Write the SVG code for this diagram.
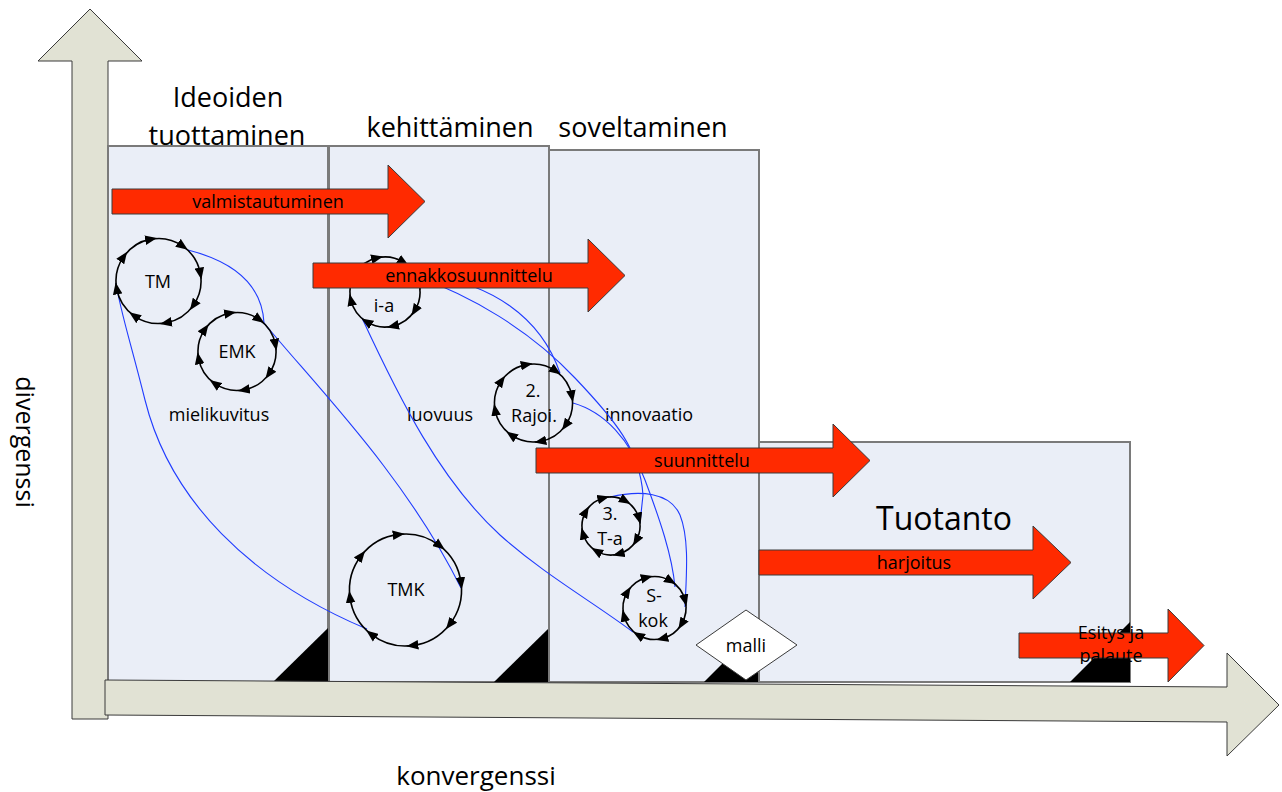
<svg xmlns="http://www.w3.org/2000/svg" width="1282" height="792" viewBox="0 0 1282 792">
  <defs>
    <style>
      .axis { fill: #E1E2D4; stroke: #3a3a3a; stroke-width: 1; }
      .panel { fill: #EAEEF7; stroke: #7a7a7a; stroke-width: 2; }
      .corner { fill: #000; }
      .flow { fill: #FF2A00; stroke: #3a3a3a; stroke-width: 1; }
      .link { fill: none; stroke: #1F3BFF; stroke-width: 1.1; }
      .cycle { fill: none; stroke: #000; stroke-width: 1.6; marker-start: url(#tri); marker-mid: url(#tri); }
      text { font-family: "Open Sans", "Liberation Sans", sans-serif; fill: #000; text-anchor: middle; }
      .big { font-size: 27px; }
      .lbl { font-size: 18px; }
    </style>
    <marker id="tri" viewBox="0 0 10 8" refX="5" refY="4" markerWidth="12" markerHeight="10" markerUnits="userSpaceOnUse" orient="auto">
      <path d="M0,0 L10,4 L0,8 Z" fill="#000"/>
    </marker>
    <clipPath id="clipEsitys">
      <rect x="1000" y="600" width="220" height="64"/>
    </clipPath>
  </defs>

  <!-- vertical axis -->
  <g id="axis-divergence">
    <polygon class="axis" points="72,719 72,61 38,61 90,9 142,61 108,61 108,719"/>
    <text class="big" style="font-size:25px" transform="translate(16,442) rotate(90)">divergenssi</text>
  </g>

  <!-- phase panels -->
  <g id="panel-ideoiden">
    <rect class="panel" x="108" y="146" width="220" height="536"/>
    <polygon class="corner" points="273,682 328,628 328,682"/>
    <text class="big" x="228" y="107">Ideoiden</text>
    <text class="big" x="227" y="145">tuottaminen</text>
    <text class="lbl" x="219" y="421">mielikuvitus</text>
  </g>
  <g id="panel-kehittaminen">
    <rect class="panel" x="329" y="146" width="220" height="536"/>
    <polygon class="corner" points="494,682 549,628 549,682"/>
    <text class="big" x="450" y="137">kehittäminen</text>
    <text class="lbl" x="440" y="421">luovuus</text>
  </g>
  <g id="panel-soveltaminen">
    <rect class="panel" x="549" y="150" width="210" height="532"/>
    <polygon class="corner" points="704,682 759,627 759,682"/>
    <text class="big" x="643" y="137">soveltaminen</text>
    <text class="lbl" x="649" y="421">innovaatio</text>
  </g>
  <g id="panel-tuotanto">
    <rect class="panel" x="759" y="442" width="371" height="240"/>
    <polygon class="corner" points="1070,682 1130,622 1130,682"/>
    <text x="944" y="530" style="font-size:32px">Tuotanto</text>
  </g>

  <!-- connectors between cycles -->
  <g id="connectors">
    <path class="link" d="M188,250 C235,262 262,285 264,323"/>
    <path class="link" d="M264,323 C315,385 405,475 461,588"/>
    <path class="link" d="M367,629 C250,580 170,500 145,400 C130,340 120,310 116,283"/>
    <path class="link" d="M362,318 C400,400 440,480 500,535 C545,575 590,600 633,632"/>
    <path class="link" d="M415,276 C470,295 530,330 575,378 C615,420 640,450 643,495 L640,523"/>
    <path class="link" d="M430,275 C490,285 540,315 560,373"/>
    <path class="link" d="M573,403 C605,412 630,440 645,480 C660,520 672,555 675,587"/>
    <path class="link" d="M610,497 C640,490 670,492 680,515 C690,540 686,580 685,607"/>
  </g>

  <!-- cycles -->
  <g id="cycle-tm">
    <path class="cycle" transform="translate(158.5,281) rotate(-100)" d="M42.5,0 A42.5,42.5 0 0 1 30.05,30.05 A42.5,42.5 0 0 1 0,42.5 A42.5,42.5 0 0 1 -30.05,30.05 A42.5,42.5 0 0 1 -42.5,0 A42.5,42.5 0 0 1 -30.05,-30.05 A42.5,42.5 0 0 1 0,-42.5 A42.5,42.5 0 0 1 30.05,-30.05 A42.5,42.5 0 0 1 42.5,0"/>
    <text class="lbl" x="158" y="288">TM</text>
  </g>
  <g id="cycle-emk">
    <path class="cycle" transform="translate(237,351.5) rotate(-100)" d="M39,0 A39,39 0 0 1 27.58,27.58 A39,39 0 0 1 0,39 A39,39 0 0 1 -27.58,27.58 A39,39 0 0 1 -39,0 A39,39 0 0 1 -27.58,-27.58 A39,39 0 0 1 0,-39 A39,39 0 0 1 27.58,-27.58 A39,39 0 0 1 39,0"/>
    <text class="lbl" x="237" y="358">EMK</text>
  </g>
  <g id="cycle-tmk">
    <path class="cycle" transform="translate(405.5,590) rotate(-97)" d="M56,0 A56,56 0 0 1 39.6,39.6 A56,56 0 0 1 0,56 A56,56 0 0 1 -39.6,39.6 A56,56 0 0 1 -56,0 A56,56 0 0 1 -39.6,-39.6 A56,56 0 0 1 0,-56 A56,56 0 0 1 39.6,-39.6 A56,56 0 0 1 56,0"/>
    <text class="lbl" x="406" y="596">TMK</text>
  </g>
  <g id="cycle-ia">
    <path class="cycle" transform="translate(385,292) rotate(-103)" d="M35,0 A35,35 0 0 1 24.75,24.75 A35,35 0 0 1 0,35 A35,35 0 0 1 -24.75,24.75 A35,35 0 0 1 -35,0 A35,35 0 0 1 -24.75,-24.75 A35,35 0 0 1 0,-35 A35,35 0 0 1 24.75,-24.75 A35,35 0 0 1 35,0"/>
    <text class="lbl" x="384" y="312">i-a</text>
  </g>
  <g id="cycle-rajoi">
    <path class="cycle" transform="translate(533.5,403) rotate(-100)" d="M39,0 A39,39 0 0 1 27.58,27.58 A39,39 0 0 1 0,39 A39,39 0 0 1 -27.58,27.58 A39,39 0 0 1 -39,0 A39,39 0 0 1 -27.58,-27.58 A39,39 0 0 1 0,-39 A39,39 0 0 1 27.58,-27.58 A39,39 0 0 1 39,0"/>
    <text class="lbl" x="533" y="397">2.</text>
    <text class="lbl" x="534" y="422">Rajoi.</text>
  </g>
  <g id="cycle-ta">
    <path class="cycle" transform="translate(611,526) rotate(-105)" d="M29,0 A29,29 0 0 1 20.51,20.51 A29,29 0 0 1 0,29 A29,29 0 0 1 -20.51,20.51 A29,29 0 0 1 -29,0 A29,29 0 0 1 -20.51,-20.51 A29,29 0 0 1 0,-29 A29,29 0 0 1 20.51,-20.51 A29,29 0 0 1 29,0"/>
    <text class="lbl" x="610" y="520">3.</text>
    <text class="lbl" x="610" y="545">T-a</text>
  </g>
  <g id="cycle-skok">
    <path class="cycle" transform="translate(654.5,608) rotate(-104)" d="M31.5,0 A31.5,31.5 0 0 1 22.27,22.27 A31.5,31.5 0 0 1 0,31.5 A31.5,31.5 0 0 1 -22.27,22.27 A31.5,31.5 0 0 1 -31.5,0 A31.5,31.5 0 0 1 -22.27,-22.27 A31.5,31.5 0 0 1 0,-31.5 A31.5,31.5 0 0 1 22.27,-22.27 A31.5,31.5 0 0 1 31.5,0"/>
    <text class="lbl" x="654" y="602">S-</text>
    <text class="lbl" x="653" y="627">kok</text>
  </g>

  <!-- model decision -->
  <g id="malli">
    <polygon points="696,645 746,610 797,645 746,680" fill="#fff" stroke="#3a3a3a" stroke-width="1"/>
    <text class="lbl" x="746" y="652">malli</text>
  </g>

  <!-- process arrows -->
  <g id="flow-valmistautuminen">
    <polygon class="flow" points="112,189 388,189 388,165 425,201.5 388,238 388,214 112,214"/>
    <text class="lbl" x="268" y="208">valmistautuminen</text>
  </g>
  <g id="flow-ennakkosuunnittelu">
    <polygon class="flow" points="313,263 588,263 588,239 625,275.5 588,312 588,288 313,288"/>
    <text class="lbl" x="469" y="282">ennakkosuunnittelu</text>
  </g>
  <g id="flow-suunnittelu">
    <polygon class="flow" points="536,448 833,448 833,424 870,460.5 833,497 833,473 536,473"/>
    <text class="lbl" x="702" y="467">suunnittelu</text>
  </g>
  <g id="flow-harjoitus">
    <polygon class="flow" points="759,550 1033,550 1033,526 1071,562.5 1033,599 1033,575 759,575"/>
    <text class="lbl" x="914" y="569">harjoitus</text>
  </g>
  <g id="flow-esitys">
    <polygon class="flow" points="1019,633 1168,633 1168,609 1204,645.5 1168,682 1168,658 1019,658"/>
    <g clip-path="url(#clipEsitys)">
      <text class="lbl" x="1111" y="639">Esitys ja</text>
      <text class="lbl" x="1111" y="662">palaute</text>
    </g>
  </g>

  <!-- horizontal axis -->
  <g id="axis-convergence">
    <polygon class="axis" points="105,680 1227,687 1227,653 1279,705 1227,756 1227,722 105,715"/>
    <text class="big" style="font-size:26px" x="476" y="785">konvergenssi</text>
  </g>
</svg>
